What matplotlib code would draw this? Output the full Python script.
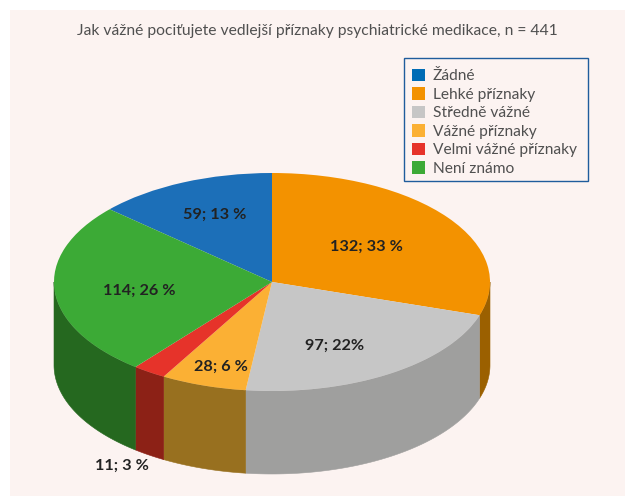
import numpy as np
import matplotlib
matplotlib.use("Agg")
import matplotlib.pyplot as plt
from matplotlib.patches import Patch, Rectangle

plt.rcParams['font.family'] = ['Lato', 'DejaVu Sans']

title = "Jak vážné pociťujete vedlejší příznaky psychiatrické medikace, n = 441"
categories = ["Žádné", "Lehké příznaky", "Středně vážné", "Vážné příznaky", "Velmi vážné příznaky", "Není známo"]
values = [59, 132, 97, 28, 11, 114]
labels = ["59; 13 %", "132; 33 %", "97; 22%", "28; 6 %", "11; 3 %", "114; 26 %"]

top_colors = ["#1c6fb8", "#f39200", "#c6c6c6", "#fbb034", "#e6332a", "#3caa36"]
side_colors = ["#134d80", "#9b6000", "#9f9f9e", "#98701f", "#8c2116", "#25681f"]
legend_colors = ["#006cb5", "#f39200", "#c6c6c6", "#fbb034", "#e6332a", "#3caa36"]

# label centres in pixels of the image
label_pos = [(215, 215), (366, 247), (335, 346), (221, 367), (122, 466), (139, 291)]

W, H = 625, 496
cx, cy, rx, ry, depth = 272, 282, 218, 109, 83

fig = plt.figure(figsize=(W / 100, H / 100), dpi=100, facecolor="white")
fig.patches.append(Rectangle((10 / W, 0), 1, 1 - 10 / H, transform=fig.transFigure,
                             facecolor="#fcf3f1", edgecolor="none", zorder=-5))
ax = fig.add_axes([0, 0, 1, 1])
ax.patch.set_visible(False)

# blue slice ends at 12 o'clock, the rest goes clockwise from there
start = -values[0] / sum(values) * 360
edges = start + np.concatenate([[0], np.cumsum(values)]) / sum(values) * 360

# side walls, only the front half of the cylinder shows
d = depth / ry
for i in range(len(values)):
    a0, a1 = max(edges[i], 90), min(edges[i + 1], 270)
    if a1 <= a0:
        continue
    t = np.radians(np.linspace(a0, a1, 80))
    xs = np.concatenate([np.sin(t), np.sin(t)[::-1]])
    ys = np.concatenate([np.cos(t), np.cos(t)[::-1] - d])
    ax.fill(xs, ys, color=side_colors[i], lw=0.4, zorder=1)

ax.pie(values, colors=top_colors, startangle=90 - start, counterclock=False, radius=1,
       wedgeprops=dict(lw=0), textprops=dict(visible=False))
for w in ax.patches:
    if w.get_zorder() < 2:
        w.set_zorder(2)

ax.set_aspect("auto")
ax.set_xlim(-cx / rx, (W - cx) / rx)
ax.set_ylim((cy - H) / ry, cy / ry)
ax.axis("off")

fig.text(317.5 / W, 1 - 31 / H, title, ha="center", va="center", fontsize=11.25, color="#505050")

for txt, (x, y) in zip(labels, label_pos):
    fig.text(x / W, 1 - y / H, txt, ha="center", va="center", fontsize=11.7,
             fontweight="bold", color="#222222", zorder=5)

# legend frame drawn on its own so the entries can sit a bit lower in the box
fig.patches.append(Rectangle((404 / W, 1 - 181 / H), 184 / W, 123 / H, transform=fig.transFigure,
                             facecolor="#fcf3f1", edgecolor="#1f5c9c", lw=1, zorder=3))
handles = [Patch(facecolor=c, edgecolor="none") for c in legend_colors]
leg = fig.legend(handles, categories, loc="upper left",
                 bbox_to_anchor=(404 / W, 1 - 61 / H), bbox_transform=fig.transFigure,
                 fontsize=11.2, labelcolor="#505050", frameon=False,
                 handlelength=0.85, handleheight=0.85, handletextpad=0.5,
                 labelspacing=0.25, borderpad=0.5, borderaxespad=0)
leg.set_zorder(4)

fig.savefig("out.png", dpi=100)
